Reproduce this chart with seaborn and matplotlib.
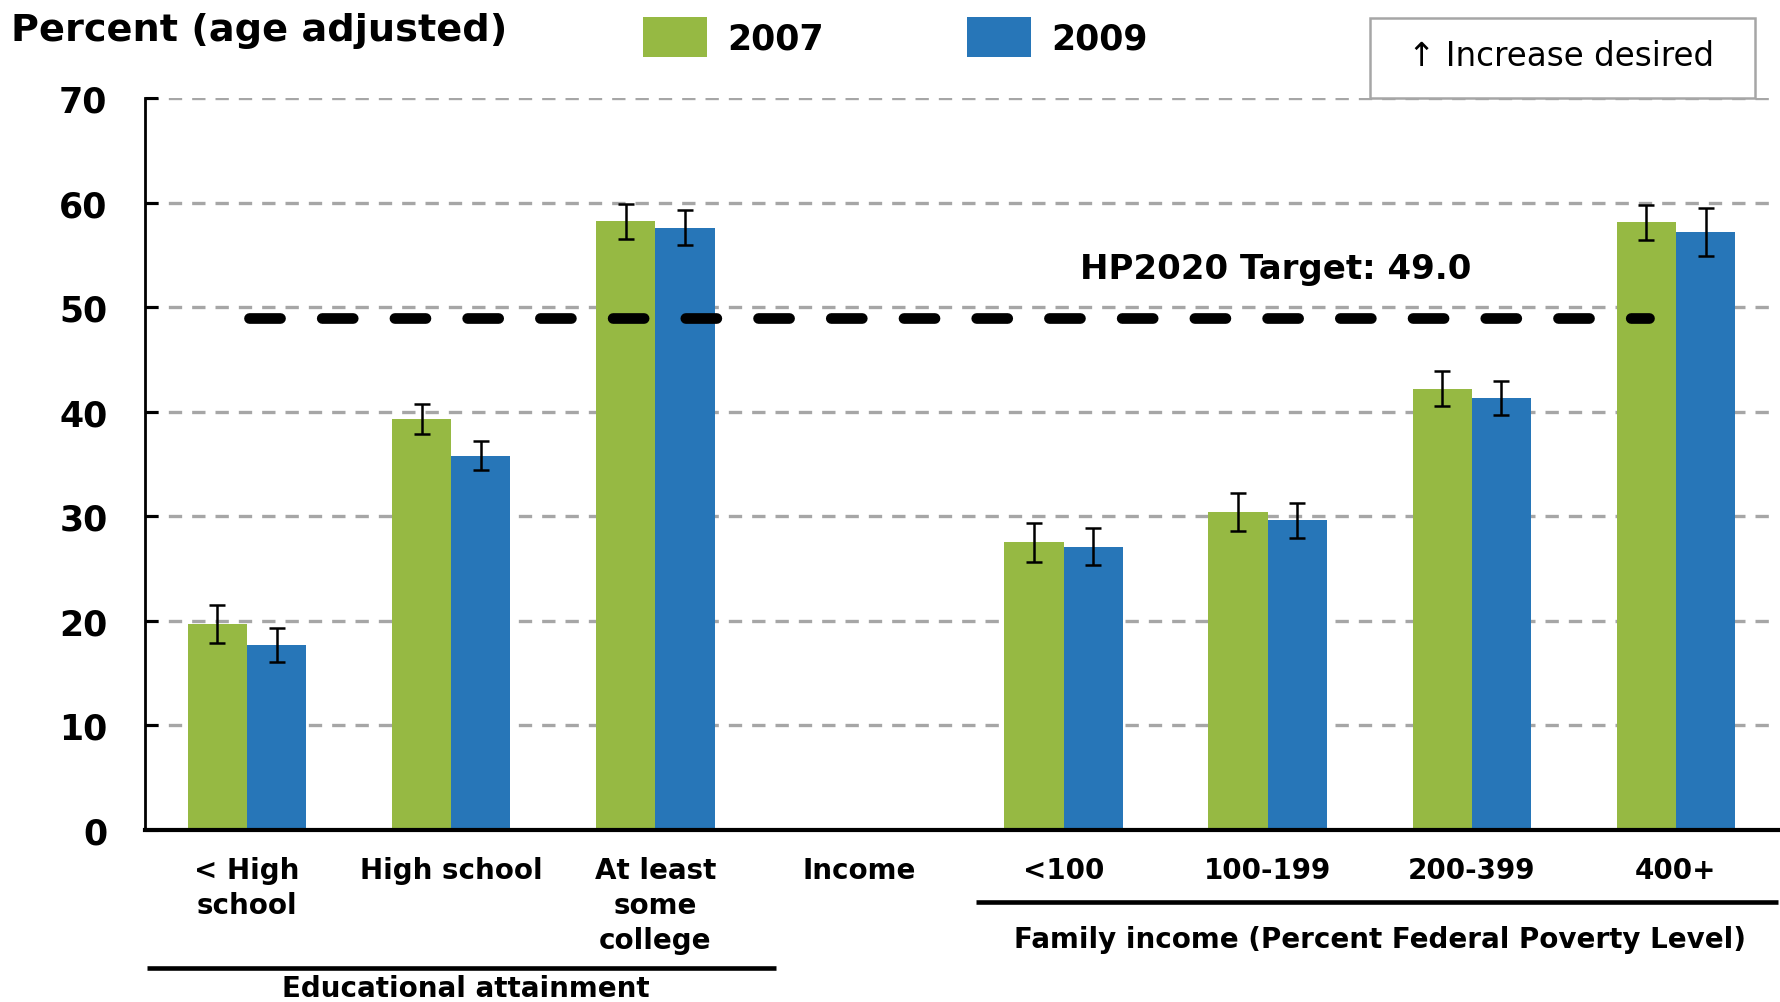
import numpy as np
import pandas as pd
import matplotlib
matplotlib.use("Agg")
import matplotlib.pyplot as plt
import matplotlib.transforms as mtransforms
from matplotlib.patches import Rectangle
import seaborn as sns

# ---------------- data ----------------
categories = ["< High\nschool", "High school", "At least\nsome\ncollege",
              "<100", "100-199", "200-399", "400+"]
axis_order = ["< High\nschool", "High school", "At least\nsome\ncollege", "Income",
              "<100", "100-199", "200-399", "400+"]
years = ["2007", "2009"]
values_2007 = [19.7, 39.3, 58.2, 27.5, 30.4, 42.2, 58.1]
values_2009 = [17.7, 35.8, 57.6, 27.1, 29.6, 41.3, 57.2]
err_2007 = [1.8, 1.4, 1.7, 1.9, 1.8, 1.7, 1.7]
err_2009 = [1.6, 1.4, 1.7, 1.8, 1.7, 1.6, 2.3]
target_value = 49.0
yticks = [0, 10, 20, 30, 40, 50, 60, 70]
colors = ["#96B943", "#2776B8"]

df = pd.DataFrame({
    "category": categories * 2,
    "year": [years[0]] * len(categories) + [years[1]] * len(categories),
    "value": values_2007 + values_2009,
})

# ---------------- figure ----------------
sns.set_style("white")
plt.rcParams["font.family"] = ["DejaVu Sans"]
plt.rcParams["text.color"] = "black"
plt.rcParams["xtick.color"] = "black"
plt.rcParams["ytick.color"] = "black"
plt.rcParams["axes.labelcolor"] = "black"

W, H = 1781, 1003
fig = plt.figure(figsize=(W / 100, H / 100), dpi=100)
ax = fig.add_axes([145 / W, 1 - 831 / H, (1778 - 145) / W, (831 - 99) / H])

sns.barplot(data=df, x="category", y="value", hue="year", order=axis_order,
            hue_order=years, palette=colors, width=0.58, errorbar=None,
            linewidth=0, saturation=1, ax=ax, zorder=2)

# error bars placed on the bars drawn by seaborn
for cont, errs in zip(ax.containers, [err_2007, err_2009]):
    xs = [b.get_x() + b.get_width() / 2 for b in cont]
    hs = [b.get_height() for b in cont]
    ax.errorbar(xs, hs, yerr=errs, fmt="none", ecolor="black",
                elinewidth=1.8, capsize=6, capthick=1.8, zorder=3)

# target line
ax.plot([0.01, 6.87], [target_value, target_value], color="black", lw=7.7,
        linestyle=(0, (2.9, 3.9)), dash_capstyle="round", zorder=4)
ax.text(5.04, 53.7, "HP2020 Target: 49.0", ha="center", va="center",
        fontsize=24.5, fontweight="bold", color="black", zorder=5)

# axes styling
ax.set_xlim(-0.5, 7.5)
ax.set_ylim(0, 70)
ax.set_yticks(yticks)
ax.set_yticklabels([str(t) for t in yticks], fontsize=25, fontweight="bold")
ax.tick_params(axis="y", direction="in", length=9, width=2.2, pad=27, left=True,
               colors="black")
ax.tick_params(axis="x", length=0, pad=19, colors="black")
for lab in ax.get_xticklabels():
    lab.set_fontsize(20)
    lab.set_fontweight("bold")
    lab.set_linespacing(1.32)
ax.set_xlabel("")
ax.set_ylabel("")
ax.set_axisbelow(True)
ax.yaxis.grid(True, color="#A6A6A6", lw=2.4, linestyle=(0, (4, 3)))
ax.xaxis.grid(False)
for s in ["top", "right"]:
    ax.spines[s].set_visible(False)
ax.spines["left"].set_linewidth(2.0)
ax.spines["left"].set_color("black")
ax.spines["bottom"].set_linewidth(3.0)
ax.spines["bottom"].set_color("black")
# hide the gridline at 0
ax.get_ygridlines()[0].set_visible(False)

# legend
sns.move_legend(ax, "center left", bbox_to_anchor=(643 / W, 1 - 38 / H),
                bbox_transform=fig.transFigure, ncol=2, frameon=False,
                title=None, prop={"size": 25, "weight": "bold"},
                handlelength=1.84, handleheight=1.38, handletextpad=0.6,
                columnspacing=4.1, borderpad=0, borderaxespad=0)
for t in ax.get_legend().get_texts():
    t.set_color("black")

# title
fig.text(11 / W, 1 - 31 / H, "Percent (age adjusted)", ha="left", va="center",
         fontsize=27.5, fontweight="bold", color="black")

# increase desired box
fig.patches.append(Rectangle((1370 / W, 1 - 99 / H), (1755 - 1370) / W, 80 / H,
                             transform=fig.transFigure, facecolor="white",
                             edgecolor="#A6A6A6", lw=1.8, zorder=5))
fig.text(1561 / W, 1 - 57 / H, "↑ Increase desired", ha="center", va="center",
         fontsize=23.5, color="black", zorder=6)

# group brackets
tr = mtransforms.blended_transform_factory(ax.transData, fig.transFigure)
ax.plot([-0.49, 2.59], [1 - 969 / H] * 2, color="black", lw=3.3,
        transform=tr, clip_on=False, solid_capstyle="butt")
ax.text(1.07, 1 - 997 / H, "Educational attainment", ha="center", va="baseline",
        fontsize=20, fontweight="bold", color="black", transform=tr)
ax.plot([3.57, 7.5], [1 - 903 / H] * 2, color="black", lw=3.3,
        transform=tr, clip_on=False, solid_capstyle="butt")
ax.text(5.55, 1 - 948 / H, "Family income (Percent Federal Poverty Level)",
        ha="center", va="baseline", fontsize=20, fontweight="bold", color="black",
        transform=tr)

fig.savefig("out.png", dpi=100)
